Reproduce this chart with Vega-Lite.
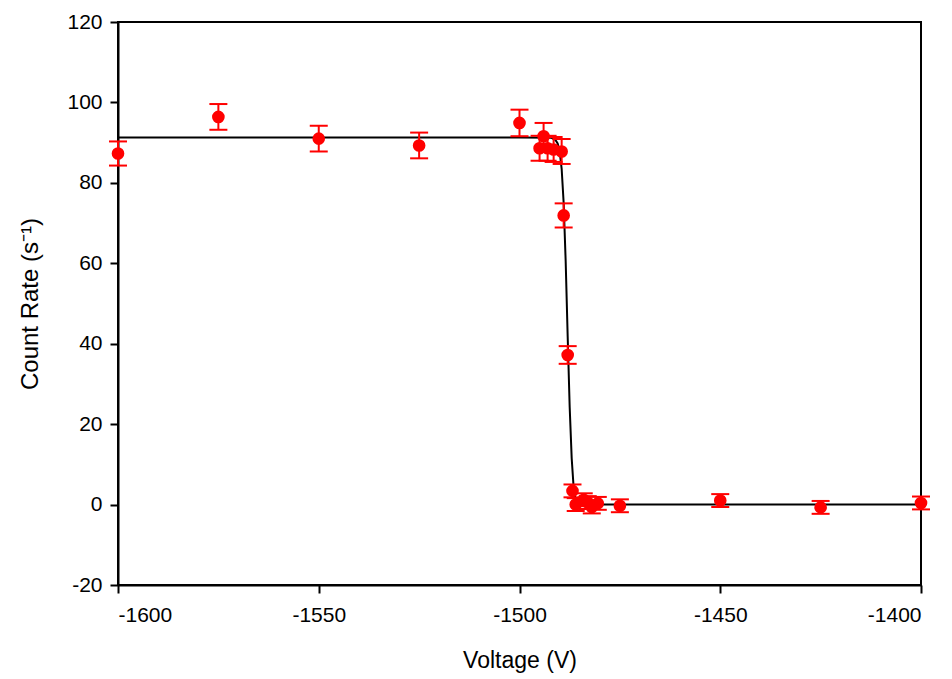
{
  "$schema": "https://vega.github.io/schema/vega-lite/v6.json",
  "autosize": "none",
  "width": 803,
  "height": 563,
  "padding": {"left": 118, "top": 22, "right": 31, "bottom": 94},
  "background": "white",
  "config": {
    "view": {"stroke": "black", "strokeWidth": 2},
    "axis": {
      "grid": false,
      "domainColor": "black",
      "domainWidth": 2,
      "tickColor": "black",
      "tickWidth": 2,
      "tickSize": 8,
      "labelFont": "Liberation Sans",
      "labelFontSize": 21,
      "labelColor": "black",
      "titleFont": "Liberation Sans",
      "titleFontSize": 23,
      "titleFontWeight": "normal",
      "titleColor": "black"
    }
  },
  "datasets": {
    "pts": [
      {"V": -1600, "rate": 87.3, "err": 3.0},
      {"V": -1575, "rate": 96.4, "err": 3.2},
      {"V": -1550, "rate": 91.0, "err": 3.2},
      {"V": -1525, "rate": 89.3, "err": 3.2},
      {"V": -1500, "rate": 94.9, "err": 3.3},
      {"V": -1495, "rate": 88.6, "err": 3.1},
      {"V": -1494, "rate": 91.6, "err": 3.3},
      {"V": -1493, "rate": 88.6, "err": 3.1},
      {"V": -1491.5, "rate": 88.3, "err": 3.1},
      {"V": -1489.5, "rate": 87.8, "err": 3.1},
      {"V": -1489, "rate": 71.9, "err": 3.0},
      {"V": -1488, "rate": 37.2, "err": 2.2},
      {"V": -1486.8, "rate": 3.4, "err": 1.6},
      {"V": -1486, "rate": 0.0, "err": 1.6},
      {"V": -1484, "rate": 1.2, "err": 1.6},
      {"V": -1483, "rate": 0.5, "err": 1.6},
      {"V": -1482, "rate": -0.6, "err": 1.6},
      {"V": -1480.5, "rate": 0.3, "err": 1.6},
      {"V": -1475, "rate": -0.3, "err": 1.6},
      {"V": -1450, "rate": 1.0, "err": 1.6},
      {"V": -1425, "rate": -0.7, "err": 1.6},
      {"V": -1400, "rate": 0.4, "err": 1.6}
    ],
    "fit": [
      {"V": -1600, "rate": 91.3},
      {"V": -1500, "rate": 91.3},
      {"V": -1492, "rate": 91.2},
      {"V": -1491, "rate": 90.6},
      {"V": -1490.5, "rate": 89.8},
      {"V": -1490, "rate": 87.8},
      {"V": -1489.5, "rate": 83.5},
      {"V": -1489, "rate": 75.0},
      {"V": -1488.5, "rate": 60.5},
      {"V": -1488, "rate": 41.8},
      {"V": -1487.5, "rate": 24.2},
      {"V": -1487, "rate": 11.5},
      {"V": -1486.5, "rate": 4.0},
      {"V": -1486, "rate": 1.0},
      {"V": -1485.5, "rate": 0.3},
      {"V": -1485, "rate": 0.1},
      {"V": -1484, "rate": 0.0},
      {"V": -1400, "rate": 0.0}
    ]
  },
  "layer": [
    {
      "data": {"name": "fit"},
      "mark": {"type": "line", "color": "black", "strokeWidth": 2, "clip": true},
      "encoding": {
        "x": {"field": "V", "type": "quantitative", "scale": {"domain": [-1600, -1400], "nice": false},
          "axis": {"values": [-1600, -1550, -1500, -1450, -1400], "labelExpr": "'' + datum.value", "title": "Voltage (V)", "labelPadding": 11, "titlePadding": 24}},
        "y": {"field": "rate", "type": "quantitative", "scale": {"domain": [-20, 120], "nice": false},
          "axis": {"values": [-20, 0, 20, 40, 60, 80, 100, 120], "labelExpr": "'' + datum.value", "title": "Count Rate (s⁻¹)", "labelPadding": 8, "titleFontSize": 24, "titlePadding": 24}}
      }
    },
    {
      "data": {"name": "pts"},
      "transform": [
        {"calculate": "datum.rate - datum.err", "as": "lo"},
        {"calculate": "datum.rate + datum.err", "as": "hi"}
      ],
      "layer": [
        {
          "mark": {"type": "rule", "color": "red", "strokeWidth": 2},
          "encoding": {
            "x": {"field": "V", "type": "quantitative"},
            "y": {"field": "lo", "type": "quantitative"},
            "y2": {"field": "hi"}
          }
        },
        {
          "mark": {"type": "tick", "orient": "horizontal", "color": "red", "size": 18, "thickness": 2, "opacity": 1},
          "encoding": {
            "x": {"field": "V", "type": "quantitative"},
            "y": {"field": "lo", "type": "quantitative"}
          }
        },
        {
          "mark": {"type": "tick", "orient": "horizontal", "color": "red", "size": 18, "thickness": 2, "opacity": 1},
          "encoding": {
            "x": {"field": "V", "type": "quantitative"},
            "y": {"field": "hi", "type": "quantitative"}
          }
        },
        {
          "mark": {"type": "circle", "color": "red", "opacity": 1, "size": 160},
          "encoding": {
            "x": {"field": "V", "type": "quantitative"},
            "y": {"field": "rate", "type": "quantitative"}
          }
        }
      ]
    }
  ]
}
